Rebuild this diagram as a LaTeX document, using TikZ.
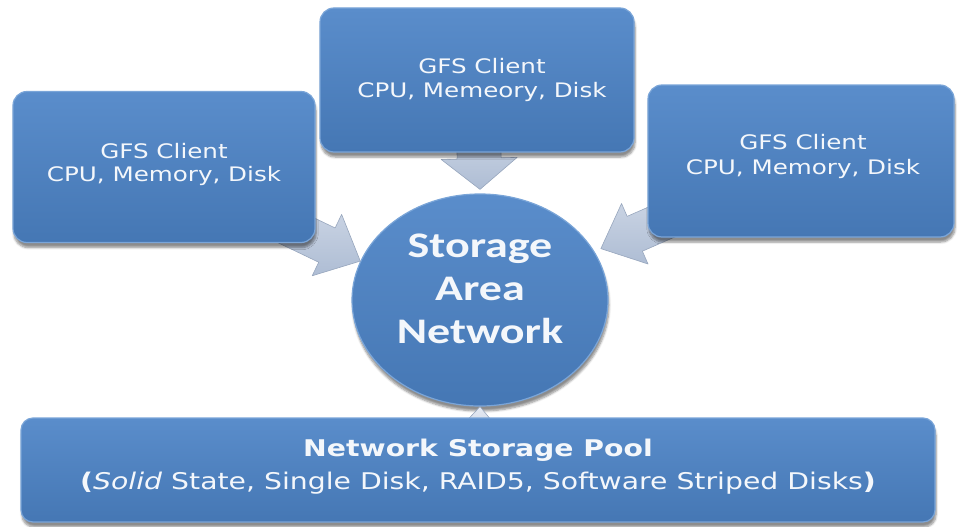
\documentclass[tikz,border=0pt]{standalone}
\usepackage{fontspec}
\setmainfont{DejaVu Sans}
\newfontfamily\hubfont{Carlito}
\usetikzlibrary{calc,shapes.geometric,shadows.blur}

\definecolor{boxtop}{HTML}{5A8DCB}
\definecolor{boxbot}{HTML}{4577B4}
\definecolor{boxrim}{HTML}{7AA5D8}
\definecolor{arrtop}{HTML}{E4E9F2}
\definecolor{arrbot}{HTML}{AEBDD4}
\definecolor{arredge}{HTML}{97A6BD}
\definecolor{txt}{HTML}{F4F7FB}

\tikzset{
  panel/.style={rounded corners=14pt, top color=boxtop, bottom color=boxbot,
    draw=boxrim, line width=1.2pt,
    blur shadow={shadow xshift=1pt, shadow yshift=-5pt, shadow blur steps=6, shadow opacity=45}},
  hubnode/.style={ellipse, top color=boxtop, bottom color=boxbot,
    draw=boxrim, line width=1.2pt,
    blur shadow={shadow xshift=1pt, shadow yshift=-5pt, shadow blur steps=6, shadow opacity=45}},
  lbl/.style={text=txt, align=center, xscale=1.23, inner sep=0pt},
  fatarrow/.style={top color=arrtop, bottom color=arrbot, draw=arredge, line width=0.6pt, line join=round},
}

% block arrow: #1 tail, #2 tip, #3 half body width, #4 half head width, #5 head length
\newcommand\blockarrow[5]{%
  \path[fatarrow]
    ($(#1)!#3!90:(#2)$) --
    ($($(#2)!#5!(#1)$)!#3!-90:(#1)$) --
    ($($(#2)!#5!(#1)$)!#4!-90:(#1)$) --
    (#2) --
    ($($(#2)!#5!(#1)$)!#4!90:(#1)$) --
    ($($(#2)!#5!(#1)$)!#3!90:(#1)$) --
    ($(#1)!#3!-90:(#2)$) -- cycle;}

\begin{document}
\begin{tikzpicture}[x=1pt,y=-1pt]
\useasboundingbox (0,0) rectangle (961,527);

% central hub
\node[hubnode, minimum width=256pt, minimum height=212pt] (hub) at (480,300) {};

% panel centres
\coordinate (leftc) at (164,167);
\coordinate (topc) at (477,80);
\coordinate (rightc) at (801,161);
\coordinate (poolc) at (478,470);

% arrow tips on the hub
\coordinate (tipL) at (hub.162);
\coordinate (tipT) at ($(hub.north)+(0,-4)$);
\coordinate (tipR) at ($(hub.23)!7pt!(rightc)$);
\coordinate (tipB) at (hub.south);

% arrows into the hub
\blockarrow{leftc}{tipL}{19pt}{34pt}{37pt}
\blockarrow{topc}{tipT}{22pt}{38pt}{31pt}
\blockarrow{rightc}{tipR}{19pt}{33pt}{37pt}
\blockarrow{poolc}{tipB}{8pt}{15pt}{17pt}

% client panels and storage pool
\node[panel, minimum width=302pt, minimum height=151pt] (left) at (leftc) {};
\node[panel, minimum width=314pt, minimum height=144pt] (top) at (topc) {};
\node[panel, minimum width=306pt, minimum height=152pt] (right) at (rightc) {};
\node[panel, rounded corners=12pt, minimum width=914pt, minimum height=104pt] (pool) at (poolc) {};

% labels
\node[lbl, font=\fontsize{20}{23}\selectfont] (leftT) at (164,164) {GFS Client\\CPU, Memory, Disk};
\node[lbl, font=\fontsize{20}{24}\selectfont] (topT) at (482,80) {GFS Client\\CPU, Memeory, Disk};
\node[lbl, font=\fontsize{20}{25}\selectfont] (rightT) at (803,156) {GFS Client\\CPU, Memory, Disk};
\node[lbl, xscale=1.04, font=\hubfont\fontsize{36}{43}\selectfont\bfseries] (hubT) at (480,289) {Storage\\Area\\Network};
\node[lbl, font=\fontsize{23}{33}\selectfont] (poolT) at (478,467)
  {\textbf{Network Storage Pool}\\\textbf{(}\textit{Solid} State, Single Disk, RAID5, Software Striped Disks\textbf{)}};
\end{tikzpicture}
\end{document}
